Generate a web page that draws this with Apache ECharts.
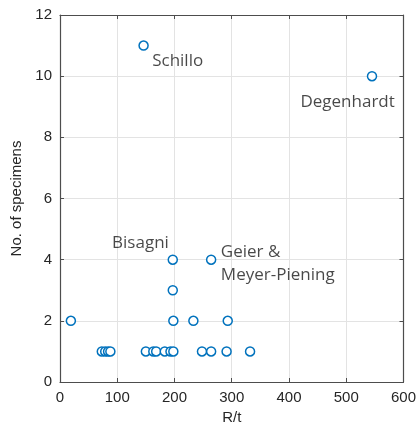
<!DOCTYPE html>
<html><head><meta charset="utf-8">
<script src="https://cdn.jsdelivr.net/npm/echarts@6/dist/echarts.min.js"></script>
<style>html,body{margin:0;padding:0;background:#fff}#c{width:419px;height:430px}</style>
</head><body><div id="c"></div>
<script>
const rt = [146, 545, 197, 264, 197, 19, 198, 233, 293, 73, 79, 84, 88, 150, 163, 168, 183, 193, 198, 248, 264, 291, 332];
const specimens = [11, 10, 4, 4, 3, 2, 2, 2, 2, 1, 1, 1, 1, 1, 1, 1, 1, 1, 1, 1, 1, 1, 1];
const noteText = ['Schillo', 'Degenhardt', 'Bisagni', 'Geier &\nMeyer-Piening'];
const noteX = [161, 420, 91, 281];
const noteY = [10.5, 9.14, 4.55, 3.88];
const xTicks = [0, 100, 200, 300, 400, 500, 600];
const yTicks = [0, 2, 4, 6, 8, 10, 12];

const chart = echarts.init(document.getElementById('c'));
const axFont = {fontFamily: 'Liberation Sans', fontSize: 15, color: '#262626'};
const lineCol = '#4d4d4d';
const boxLine = {show: true, onZero: false, lineStyle: {color: lineCol, width: 1.2}};
const tick = {show: true, inside: true, length: 4, lineStyle: {color: lineCol}};
chart.setOption({
  animation: false,
  grid: {left: 60, right: 13, top: 15, bottom: 46, containLabel: false},
  xAxis: [{
    type: 'value', min: xTicks[0], max: xTicks[xTicks.length-1], interval: 100,
    name: 'R/t', nameLocation: 'middle', nameGap: 28,
    nameTextStyle: axFont,
    axisLabel: Object.assign({margin: 8}, axFont),
    axisLine: boxLine, axisTick: tick,
    splitLine: {show: true, lineStyle: {color: '#e3e3e3'}}
  }, {
    type: 'value', position: 'top', min: 0, max: 600, interval: 100,
    axisLabel: {show: false}, axisLine: boxLine, axisTick: tick,
    splitLine: {show: false}
  }],
  yAxis: [{
    type: 'value', min: yTicks[0], max: yTicks[yTicks.length-1], interval: 2,
    name: 'No. of specimens', nameLocation: 'middle', nameGap: 32, nameRotate: 90,
    nameTextStyle: axFont,
    axisLabel: Object.assign({margin: 8}, axFont),
    axisLine: boxLine, axisTick: tick,
    splitLine: {show: true, lineStyle: {color: '#e3e3e3'}}
  }, {
    type: 'value', position: 'right', min: 0, max: 12, interval: 2,
    axisLabel: {show: false}, axisLine: boxLine, axisTick: tick,
    splitLine: {show: false}
  }],
  series: [{
    type: 'scatter',
    data: rt.map((x, i) => [x, specimens[i]]),
    symbol: 'circle', symbolSize: 9,
    itemStyle: {color: '#fff', borderColor: '#0072BD', borderWidth: 1.5, opacity: 1}
  }, {
    type: 'scatter',
    data: noteX.map((x, i) => ({value: [x, noteY[i]], label: {formatter: noteText[i]}})),
    symbolSize: 0,
    silent: true,
    label: {show: true, position: 'right', distance: 0, fontFamily: 'Open Sans', fontSize: 17,
      color: '#1a1a1a', lineHeight: 23, align: 'left'}
  }]
});
</script></body></html>
